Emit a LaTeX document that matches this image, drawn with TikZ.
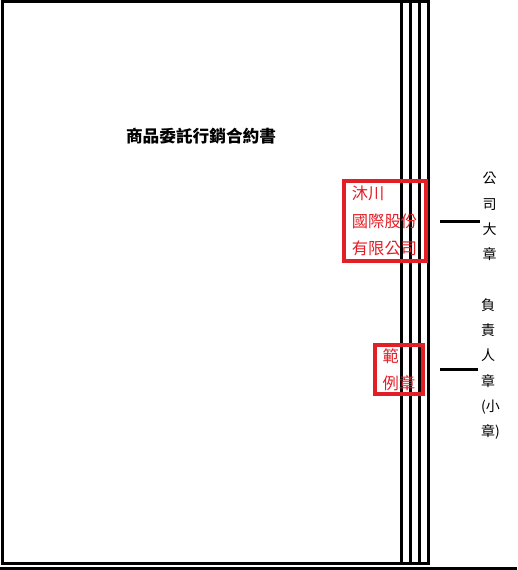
\documentclass[tikz,border=0pt]{standalone}
\usepackage{fontspec}
\newfontfamily\cjk{Noto Sans CJK TC}
\usetikzlibrary{positioning}
\definecolor{sealred}{RGB}{226,30,38}

\begin{document}
\begin{tikzpicture}[x=0.75pt,y=-0.75pt,
	sheet/.style = {line width=2.25pt, black},
	seal/.style = {draw=sealred, line width=3pt, text=sealred, align=left, inner sep=0pt,
		font=\cjk\fontsize{12.2}{20.5}\selectfont},
	stamplabel/.style = {align=left, inner sep=2pt, font=\cjk\fontsize{10.5}{18.9}\selectfont}]
				\useasboundingbox (0,0) rectangle (517,570);
				% sheets
				\draw [sheet] (2,2) rectangle (428,563);
				\draw [sheet] (401.5,2) -- (401.5,563);
				\draw [sheet] (410.5,2) -- (410.5,563);
				\draw [sheet] (419.5,2) -- (419.5,563);
				\draw [sheet] (0,568) -- (517,568);
				\node[font=\cjk\bfseries\fontsize{12.5}{15}\selectfont] (title) at (201,136) {商品委託行銷合約書};
				% seals
				\node[seal, minimum width=61.5pt, minimum height=60pt] (bigseal) at (384.5,221) {沐川\\國際股份\\有限公司};
				\node[seal, minimum width=36pt, minimum height=37pt] (smallseal) at (399,369.5) {範\\例章};
				% labels
				\node[stamplabel] (biglabel) at (489.5,216.5) {公\\司\\大\\章};
				\node[stamplabel] (smalllabel) at (490.5,369) {負\\責\\人\\章\\(小\\章)};
				\coordinate (bigtip) at (440,221);
				\coordinate (smalltip) at (440,369);
				\draw [black,line width=2.25pt] (bigtip) -- (bigtip -| biglabel.west);
				\draw [black,line width=2.25pt] (smalltip) -- (smalltip -| smalllabel.west);
			\end{tikzpicture}
\end{document}
